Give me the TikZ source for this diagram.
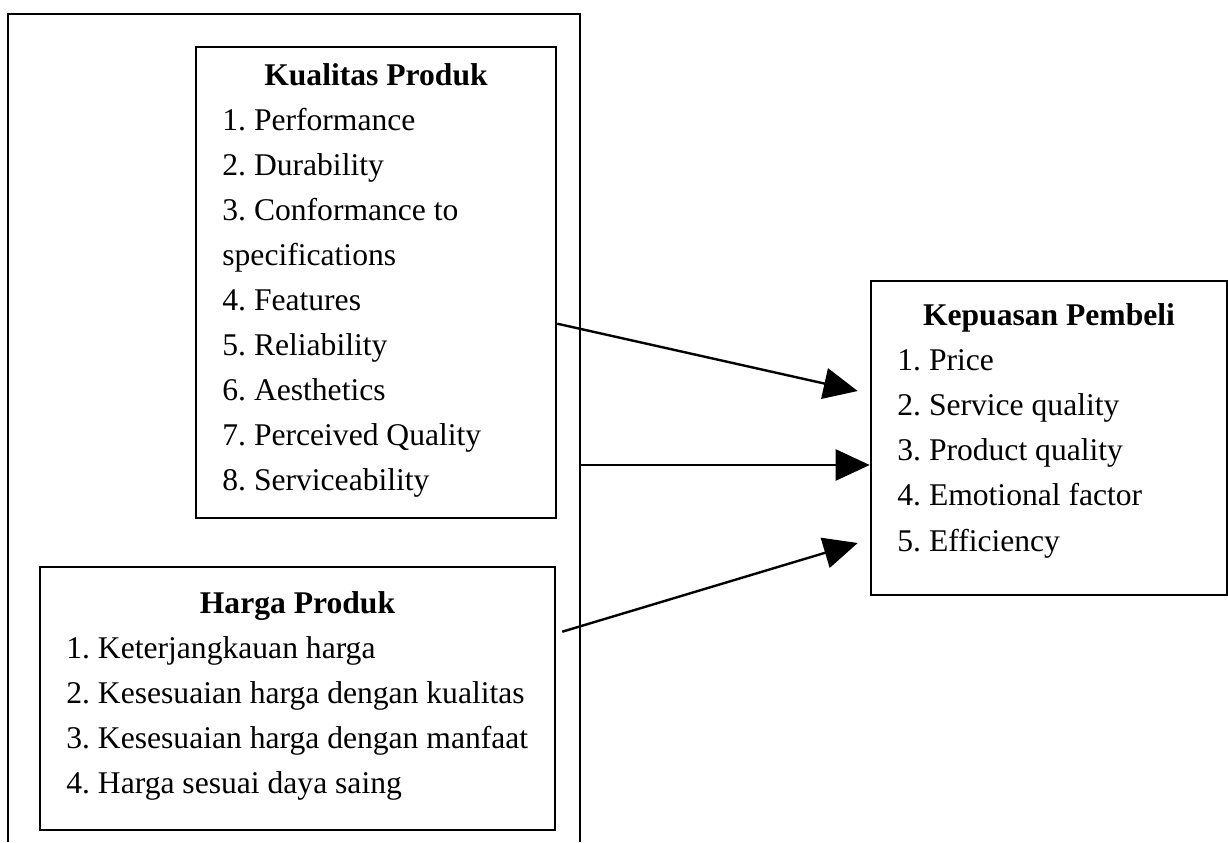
\documentclass[tikz,border=0pt]{standalone}
\usepackage{fontspec}
\setmainfont{Liberation Serif}
\usetikzlibrary{arrows.meta, calc, positioning}
\frenchspacing

\tikzset{
  box/.style={draw, line width=1.3pt, rectangle, inner sep=0pt},
  head/.style={font=\fontsize{15.8}{19}\selectfont\bfseries, anchor=base, inner sep=0pt},
  item/.style={font=\fontsize{15.8}{19}\selectfont, anchor=base west, inner sep=0pt},
  link/.style={line width=1.2pt, -{Triangle[length=17pt,width=15.5pt]}}
}

\begin{document}
\begin{tikzpicture}[x=0.5pt,y=-0.5pt]
\useasboundingbox (0,0) rectangle (1228,842);
% outer frame, open at the bottom
\draw[line width=1.3pt] (8,842) -- (8,14) -- (580,14) -- (580,842);
\coordinate (frame) at (580,465);

% Kualitas Produk
\node[box, minimum width=180pt, minimum height=235.5pt] (kualitas) at (376,282.5) {};
\node[head] (kualitasT) at (376,85) {Kualitas Produk};
\foreach \txt [count=\i from 0] in {1. Performance, 2. Durability, 3. Conformance to, specifications, 4. Features, 5. Reliability, 6. Aesthetics, 7. Perceived Quality, 8. Serviceability}
  \node[item] (kq\i) at (222,130+45*\i) {\txt};

% Harga Produk
\node[box, minimum width=257.5pt, minimum height=131.5pt] (harga) at (297.5,698.5) {};
\node[head] (hargaT) at (297.5,613) {Harga Produk};
\foreach \txt [count=\i from 0] in {1. Keterjangkauan harga, 2. Kesesuaian harga dengan kualitas, 3. Kesesuaian harga dengan manfaat, 4. Harga sesuai daya saing}
  \node[item] (hp\i) at (66,658+45*\i) {\txt};

% Kepuasan Pembeli
\node[box, minimum width=178pt, minimum height=157pt] (kepuasan) at (1049,438) {};
\node[head] (kepuasanT) at (1049,325) {Kepuasan Pembeli};
\foreach \txt [count=\i from 0] in {1. Price, 2. Service quality, 3. Product quality, 4. Emotional factor, 5. Efficiency}
  \node[item] (kb\i) at (897,370+45.3*\i) {\txt};

% arrows
\draw[link] ($(kualitas.north east)+(0,278)$) -- ($(kepuasan.west)+(-12,-47)$);
\draw[link] (frame) -- (kepuasan.west |- frame);
\draw[link] ($(harga.north east)+(6,66)$) -- ($(kepuasan.west)+(-12,105)$);
\end{tikzpicture}
\end{document}
